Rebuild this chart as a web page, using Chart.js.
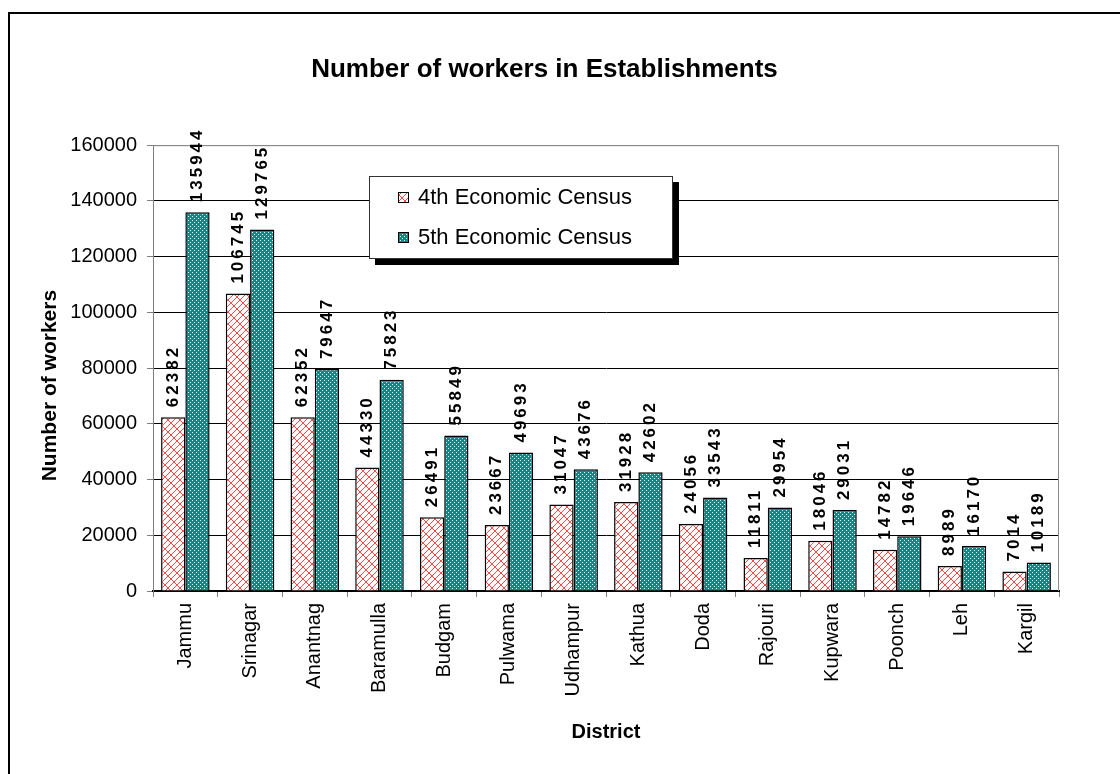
<!DOCTYPE html>
<html>
<head>
<meta charset="utf-8">
<script src="https://cdn.jsdelivr.net/npm/chart.js@4"></script>
<style>
  html, body { margin:0; padding:0; background:#fff; }
  #wrap { position:relative; width:1120px; height:774px; overflow:hidden; }
  #frame { position:absolute; left:8px; top:12px; width:2000px; height:2000px;
           border-left:2px solid #000; border-top:2px solid #000; pointer-events:none; }
  canvas { display:block; }
</style>
</head>
<body>
<div id="wrap"><canvas id="chart" width="1120" height="774"></canvas><div id="frame"></div></div>
<script>
// ── DATA ───────────────────────────────────────────────────────────────
const DISTRICTS = ['Jammu','Srinagar','Anantnag','Baramulla','Budgam','Pulwama','Udhampur',
                   'Kathua','Doda','Rajouri','Kupwara','Poonch','Leh','Kargil'];
const CENSUS_4TH = [62382,106745,62352,44330,26491,23667,31047,31928,24056,11811,18046,14782,8989,7014];
const CENSUS_5TH = [135944,129765,79647,75823,55849,49693,43676,42602,33543,29954,29031,19646,16170,10189];
const SERIES_NAMES = ['4th Economic Census','5th Economic Census'];
const Y_MIN = 0, Y_MAX = 160000, Y_STEP = 20000;

const FONT = 'Liberation Sans, Arial, sans-serif';

// ── PATTERNS ───────────────────────────────────────────────────────────
// red diagonal brick hatch on white
function brickPattern() {
  const c = document.createElement('canvas');
  c.width = c.height = 12;
  const g = c.getContext('2d');
  g.fillStyle = '#fff';
  g.fillRect(0, 0, 12, 12);
  g.strokeStyle = '#ff4a4a';
  g.lineWidth = 1;
  g.beginPath();
  // diagonal lines x + y = 6k
  for (let k = -1; k <= 5; k++) {
    const s = 6 * k;
    g.moveTo(s + 1, -1); g.lineTo(-1, s + 1);
  }
  // short staggered cross pieces between neighbouring lines
  for (let k = -2; k <= 5; k++) {
    const s = 6 * k;
    const off = 3 * (((k % 2) + 2) % 2);
    for (let j = -4; j <= 4; j++) {
      const x0 = off + 6 * j, y0 = s - x0;
      g.moveTo(x0, y0); g.lineTo(x0 + 3, y0 + 3);
    }
  }
  g.stroke();
  return g.createPattern(c, 'repeat');
}

// teal with small white dots (staggered)
function dotPattern() {
  const c = document.createElement('canvas');
  c.width = c.height = 4;
  const g = c.getContext('2d');
  g.fillStyle = '#0a8a8a';
  g.fillRect(0, 0, 4, 4);
  g.fillStyle = '#f4fafa';
  g.fillRect(0, 0, 1, 1);
  g.fillRect(2, 2, 1, 1);
  return g.createPattern(c, 'repeat');
}

const FILL_4TH = brickPattern();
const FILL_5TH = dotPattern();

// ── PLUGINS ────────────────────────────────────────────────────────────
const plotFrame = {
  id: 'plotFrame',
  beforeDatasetsDraw(chart) {
    const { ctx, chartArea: a } = chart;
    ctx.save();
    ctx.strokeStyle = '#8a8a8a';
    ctx.lineWidth = 1;
    ctx.beginPath();
    ctx.moveTo(a.left, a.top + 0.5);
    ctx.lineTo(a.right - 0.5, a.top + 0.5);
    ctx.lineTo(a.right - 0.5, a.bottom);
    ctx.stroke();
    ctx.restore();
  }
};

const barLabels = {
  id: 'barLabels',
  afterDatasetsDraw(chart) {
    const { ctx } = chart;
    ctx.save();
    ctx.font = 'bold 17px ' + FONT;
    ctx.letterSpacing = '3px';
    ctx.fillStyle = '#000';
    ctx.textAlign = 'left';
    ctx.textBaseline = 'middle';
    chart.data.datasets.forEach((ds, i) => {
      chart.getDatasetMeta(i).data.forEach((bar, j) => {
        ctx.save();
        ctx.translate(bar.x, bar.y - 10);
        ctx.rotate(-Math.PI / 2);
        ctx.fillText(String(ds.data[j]), 0, 0);
        ctx.restore();
      });
    });
    ctx.restore();
  }
};

const boxLegend = {
  id: 'boxLegend',
  afterDraw(chart) {
    const { ctx } = chart;
    const x = 369, y = 176, w = 304, h = 83, sh = 6;
    ctx.save();
    ctx.fillStyle = '#000';
    ctx.fillRect(x + sh, y + sh, w, h);
    ctx.fillStyle = '#fff';
    ctx.fillRect(x, y, w, h);
    ctx.strokeStyle = '#333';
    ctx.lineWidth = 1;
    ctx.strokeRect(x + 0.5, y + 0.5, w - 1, h - 1);
    ctx.font = '22px ' + FONT;
    ctx.textAlign = 'left';
    ctx.textBaseline = 'middle';
    chart.data.datasets.forEach((ds, i) => {
      const cy = y + 21 + i * 40;
      ctx.fillStyle = ds.backgroundColor;
      ctx.fillRect(398, cy - 5, 11, 11);
      ctx.strokeStyle = '#000';
      ctx.strokeRect(398.5, cy - 4.5, 10, 10);
      ctx.fillStyle = '#000';
      ctx.fillText(ds.label, 418, cy + 1);
    });
    ctx.restore();
  }
};

// ── CHART ──────────────────────────────────────────────────────────────
new Chart(document.getElementById('chart'), {
  type: 'bar',
  data: {
    labels: DISTRICTS,
    datasets: [
      { label: SERIES_NAMES[0], data: CENSUS_4TH, backgroundColor: FILL_4TH,
        borderColor: '#000', borderWidth: 1.5, categoryPercentage: 0.75, barPercentage: 1 },
      { label: SERIES_NAMES[1], data: CENSUS_5TH, backgroundColor: FILL_5TH,
        borderColor: '#000', borderWidth: 1.5, categoryPercentage: 0.75, barPercentage: 1 }
    ]
  },
  options: {
    responsive: false,
    animation: false,
    layout: { padding: { left: 30, top: 0, right: 61, bottom: 22 } },
    plugins: {
      legend: { display: false },
      tooltip: { enabled: false },
      title: {
        display: true,
        text: 'Number of workers in Establishments',
        color: '#000',
        font: { family: FONT, size: 26, weight: 'bold' },
        padding: { top: 54, bottom: 60 }
      }
    },
    scales: {
      x: {
        afterFit: s => { s.height = 161; },
        grid: { drawOnChartArea: false, drawTicks: true, tickLength: 6, color: '#808080' },
        border: { color: '#000', width: 2 },
        ticks: { color: '#000', font: { family: FONT, size: 20 }, minRotation: 90, maxRotation: 90, padding: 6, autoSkip: false },
        title: { display: true, text: 'District', color: '#000',
                 font: { family: FONT, size: 20, weight: 'bold' }, padding: { top: 0, bottom: 8 } }
      },
      y: {
        min: Y_MIN, max: Y_MAX,
        afterFit: s => { s.width = 123; },
        grid: { color: c => c.tick && c.tick.value === Y_MAX ? '#8a8a8a' : '#000', lineWidth: 1, tickLength: 6, tickColor: '#808080' },
        border: { color: '#808080', width: 1 },
        ticks: { stepSize: Y_STEP, color: '#000', font: { family: FONT, size: 20 }, padding: 10,
                 callback: v => String(v) },
        title: { display: true, text: 'Number of workers      ', color: '#000',
                 font: { family: FONT, size: 21, weight: 'bold' }, padding: { top: 8, bottom: 0 } }
      }
    }
  },
  plugins: [plotFrame, barLabels, boxLegend]
});
</script>
</body>
</html>
